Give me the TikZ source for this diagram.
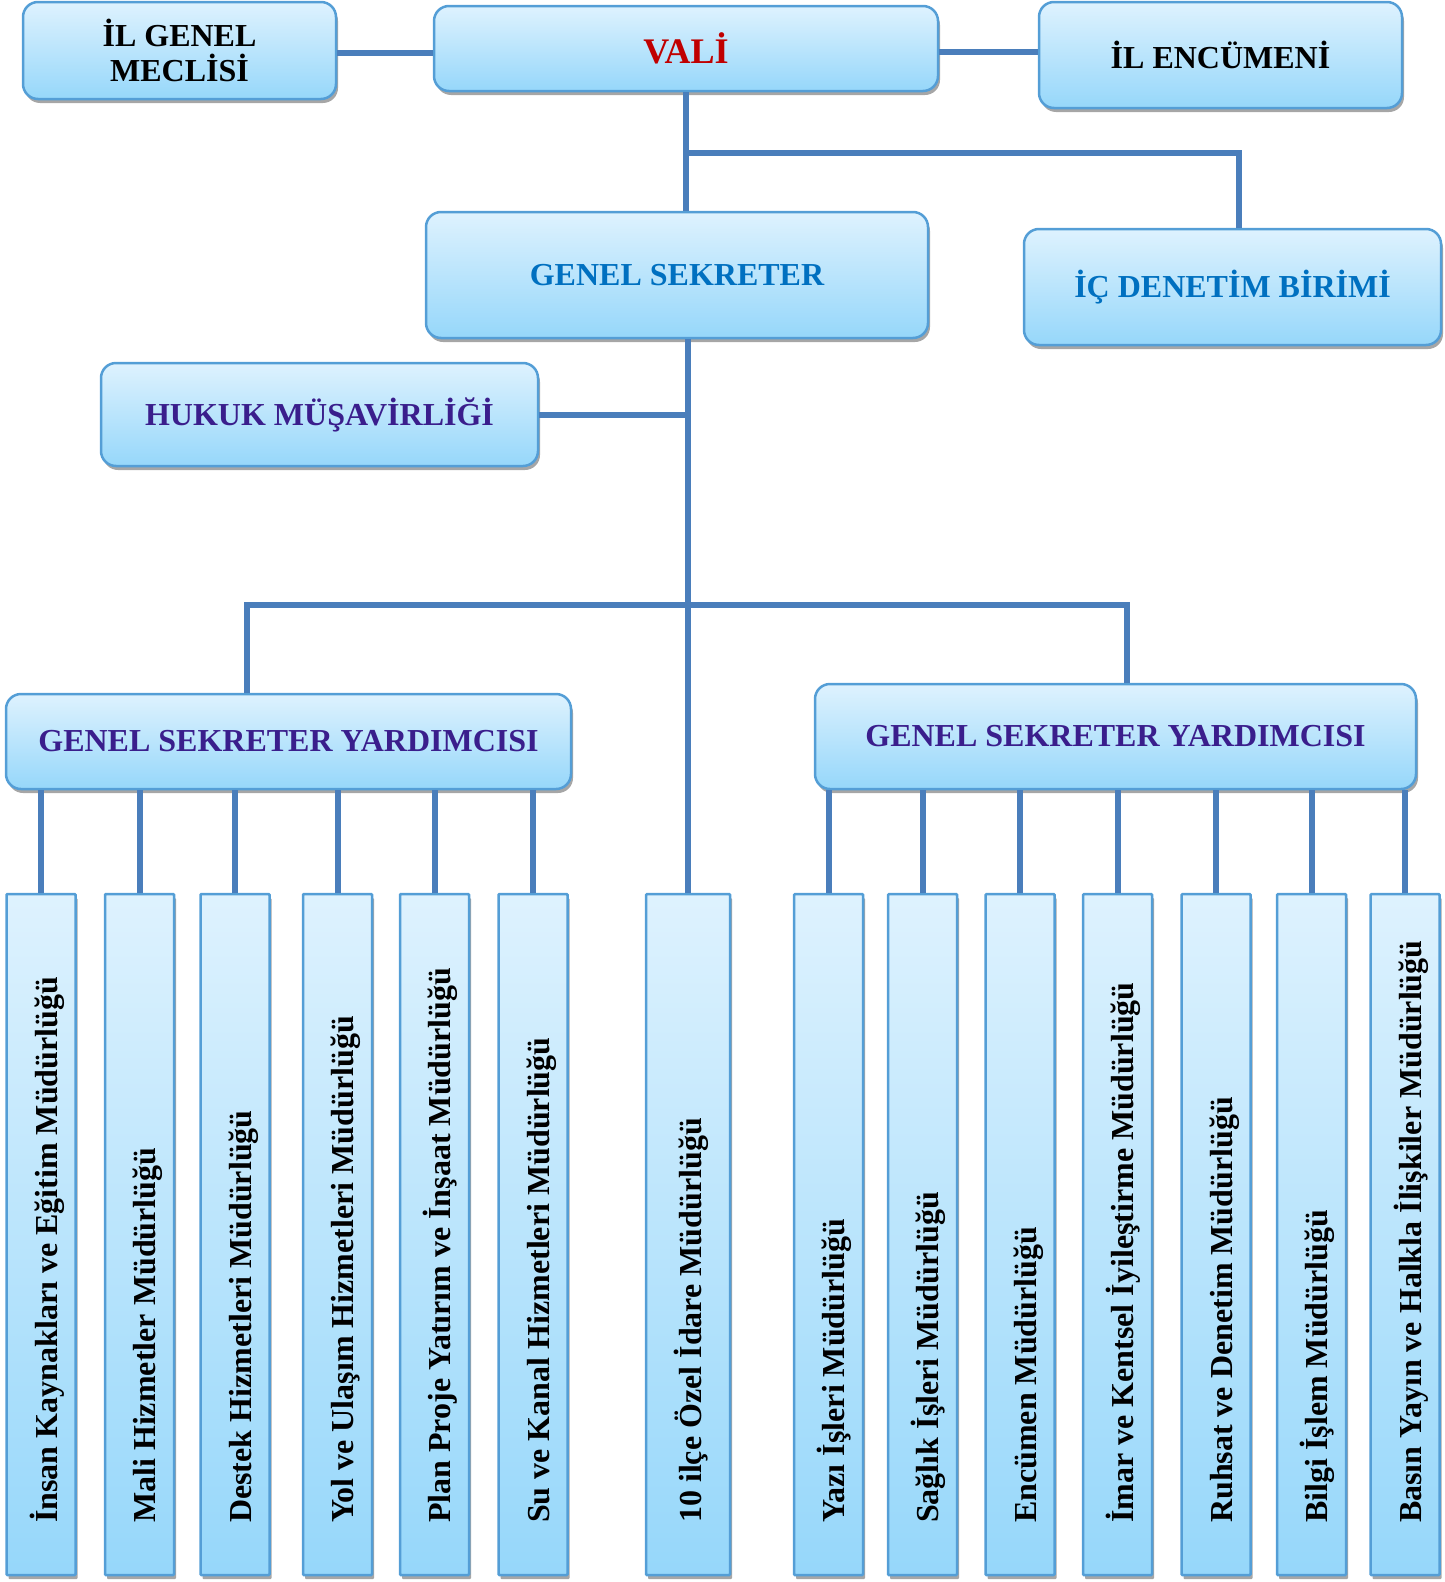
\documentclass[tikz,border=0pt]{standalone}
\usepackage{fontspec}
\setmainfont{Liberation Serif}
\usetikzlibrary{shadows}
\definecolor{kutuust}{RGB}{222,242,254}
\definecolor{kutualt}{RGB}{150,215,250}
\definecolor{kenar}{RGB}{84,158,214}
\definecolor{hatrengi}{RGB}{74,126,187}
\definecolor{kirmizi}{RGB}{192,0,0}
\definecolor{mavi}{RGB}{0,112,192}
\definecolor{mor}{RGB}{58,30,140}
\tikzset{
  kutu/.style={draw=kenar, line width=2.5pt, top color=kutuust, bottom color=kutualt,
    rounded corners=15pt, drop shadow={shadow xshift=2pt, shadow yshift=-4pt, fill=black!35, opacity=1},
    font=\fontsize{32}{35}\selectfont\bfseries, align=center, inner sep=0pt},
  mudurluk/.style={kutu, rounded corners=1pt, minimum width=69pt, minimum height=681pt},
  dikyazi/.style={rotate=90, anchor=base west, font=\fontsize{32}{35}\selectfont\bfseries, inner sep=0pt},
  baglanti/.style={draw=hatrengi, line width=6pt}
}
\begin{document}
\begin{tikzpicture}[x=1pt, y=-1pt]
\useasboundingbox (0,0) rectangle (1445,1582);
\node [kutu, minimum width=313pt, minimum height=97pt] (meclis) at (179.5,50.5) {İL GENEL\\MECLİSİ};
\node [kutu, text=kirmizi, font=\fontsize{36}{40}\selectfont\bfseries, minimum width=504pt, minimum height=85pt] (vali) at (686,48.5) {VALİ};
\node [kutu, minimum width=363pt, minimum height=106pt] (encumen) at (1220.5,55) {İL ENCÜMENİ};
\node [kutu, text=mavi, minimum width=502pt, minimum height=126pt] (gensek) at (677,275) {GENEL SEKRETER};
\node [kutu, text=mavi, minimum width=417pt, minimum height=116pt] (icdenetim) at (1232.5,287) {İÇ DENETİM BİRİMİ};
\node [kutu, text=mor, minimum width=437pt, minimum height=103pt] (hukuk) at (319.5,414.5) {HUKUK MÜŞAVİRLİĞİ};
\node [kutu, text=mor, minimum width=565pt, minimum height=95pt] (yard1) at (288.5,741.5) {GENEL SEKRETER YARDIMCISI};
\node [kutu, text=mor, minimum width=601pt, minimum height=105pt] (yard2) at (1115.5,736.5) {GENEL SEKRETER YARDIMCISI};
\foreach \ad/\x/\metin in {m1/41/{İnsan Kaynakları ve Eğitim Müdürlüğü},
    m2/139.5/{Mali Hizmetler Müdürlüğü},
    m3/235/{Destek Hizmetleri Müdürlüğü},
    m4/337.5/{Yol ve Ulaşım Hizmetleri Müdürlüğü},
    m5/434.5/{Plan Proje Yatırım ve İnşaat Müdürlüğü},
    m6/533/{Su ve Kanal Hizmetleri Müdürlüğü},
    s1/828.5/{Yazı İşleri Müdürlüğü},
    s2/922.5/{Sağlık İşleri Müdürlüğü},
    s3/1020/{Encümen Müdürlüğü},
    s4/1117.5/{İmar ve Kentsel İyileştirme Müdürlüğü},
    s5/1216/{Ruhsat ve Denetim Müdürlüğü},
    s6/1311.5/{Bilgi İşlem Müdürlüğü},
    s7/1405/{Basın Yayın ve Halkla İlişkiler Müdürlüğü}}{
  \node [mudurluk] (\ad) at (\x,1234.5) {};
  \node [dikyazi] (\ad-yazi) at (\x+16,1523) {\metin};
}
\node [mudurluk, minimum width=84pt] (ilce) at (688,1234.5) {};
\node [dikyazi] (ilce-yazi) at (701,1523) {10 ilçe Özel İdare Müdürlüğü};
\draw [baglanti] ([yshift=-2pt]meclis.east) -- ([yshift=-2pt]meclis.east -| vali.west);
\draw [baglanti] ([yshift=-3pt]vali.east) -- ([yshift=-3pt]vali.east -| encumen.west);
\draw [baglanti] (vali.south) -- (vali.south |- gensek.north);
\coordinate (dal1) at (686,153);
\draw [baglanti] (dal1) -| ([xshift=6pt]icdenetim.north);
\draw [baglanti] (ilce.north |- gensek.south) -- (ilce.north);
\draw [baglanti] (hukuk.east) -- (hukuk.east -| ilce.north);
\coordinate (dal2) at (247,605);
\coordinate (dal3) at (1127,605);
\draw [baglanti] (dal2 |- yard1.north) -- (dal2) -- (dal3) -- (dal3 |- yard2.north);
\foreach \ad in {m1,m2,m3,m4,m5,m6}
  \draw [baglanti] (\ad.north |- yard1.south) -- (\ad.north);
\foreach \ad in {s1,s2,s3,s4,s5,s6,s7}
  \draw [baglanti] (\ad.north |- yard2.south) -- (\ad.north);
\end{tikzpicture}
\end{document}
